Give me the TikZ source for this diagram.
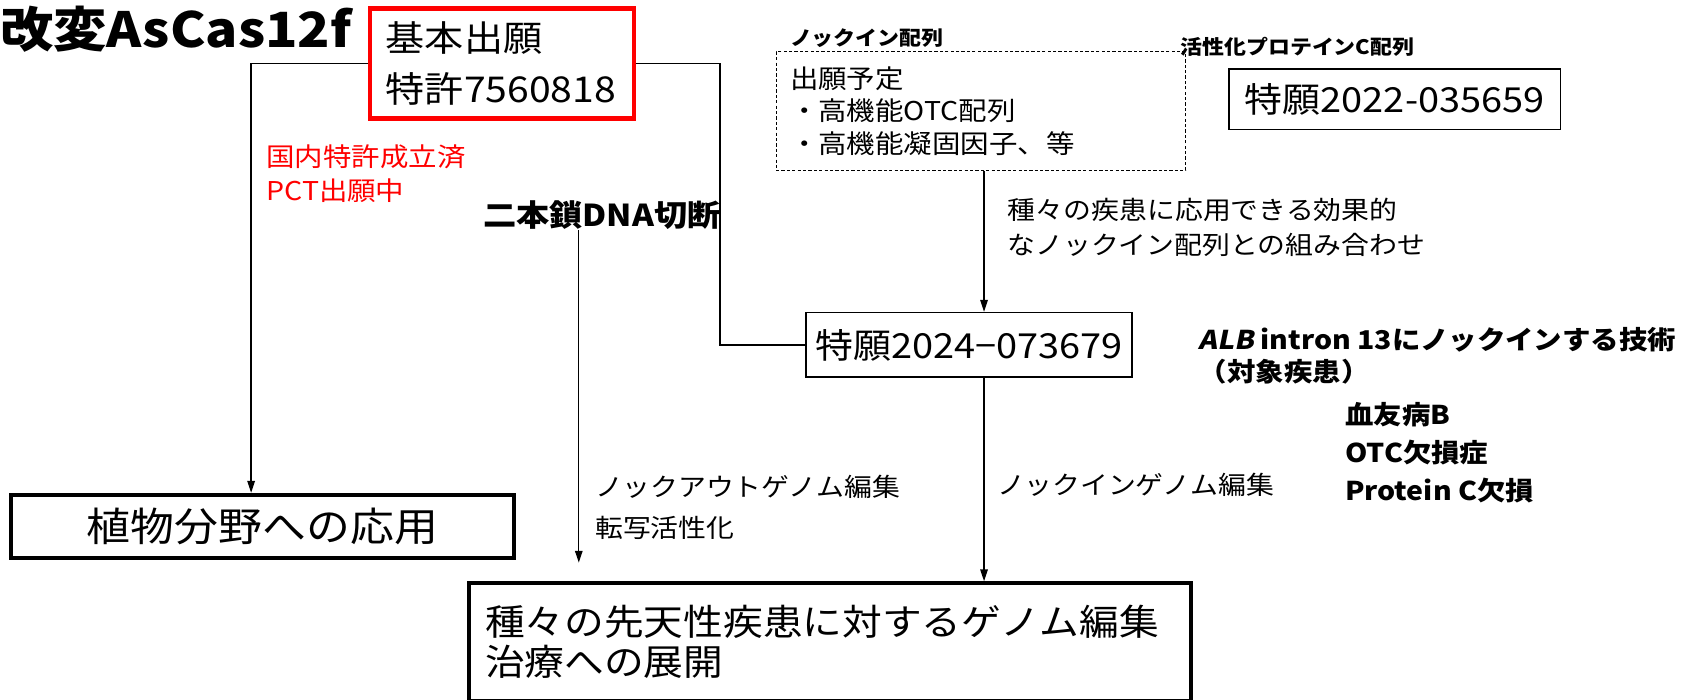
\documentclass[tikz,border=0pt]{standalone}
\usepackage{fontspec}
\setmainfont{Noto Sans CJK JP}[FakeStretch=1.1]
\newfontfamily\slfont{Noto Sans CJK JP}[FakeStretch=1.1,FakeSlant=0.2]
\usetikzlibrary{arrows.meta,calc}
\begin{document}
\begin{tikzpicture}[x=1pt,y=-1pt,
  txt/.style={inner sep=0pt, anchor=west, align=left},
  arr/.style={-{Triangle[length=11pt,width=7pt]}, line width=1.2pt},
  ln/.style={line width=1.2pt},
  thinbox/.style={draw, line width=1.5pt},
  thickbox/.style={draw, line width=3.5pt}]
\useasboundingbox (0,0) rectangle (1568,649);

\node[txt, font=\bfseries\fontsize{45}{50}\selectfont] (title) at (0,27) {改変AsCas12f};

\node[draw=red, line width=4pt, minimum width=245pt, minimum height=102pt, inner xsep=15pt, text width=215pt, align=left, font=\fontsize{33}{48}\selectfont] (red) at (465.5,59) {基本出願\\特許7560818};

\node[txt, text=red, font=\fontsize{24}{32}\selectfont] (status) at (247,161) {国内特許成立済\\PCT出願中};

\node[txt, font=\bfseries\fontsize{28}{32}\selectfont] (dsb) at (448,200) {二本鎖DNA切断};

\node[txt, font=\bfseries\fontsize{18.5}{22}\selectfont] (kilabel) at (733,35) {ノックイン配列};
\node[draw, line width=0.8pt, dash pattern=on 3pt off 2pt, minimum width=380pt, minimum height=110pt, inner xsep=13pt, text width=354pt, align=left, font=\fontsize{24}{30}\selectfont] (kibox) at (910,103) {出願予定\\・高機能OTC配列\\・高機能凝固因子、等};

\node[txt, font=\bfseries\fontsize{18.5}{22}\selectfont] (aplabel) at (1095,43) {活性化プロテインC配列};
\node[thinbox, minimum width=308pt, minimum height=56pt, font=\fontsize{32}{38}\selectfont] (k22) at (1294,92) {特願2022-035659};

\node[txt, font=\fontsize{23.5}{33}\selectfont] (combo) at (935,211) {種々の疾患に応用できる効果的\\なノックイン配列との組み合わせ};

\node[thinbox, minimum width=302pt, minimum height=60pt, font=\fontsize{32}{38}\selectfont] (k24) at (899,320) {特願2024−073679};

\node[txt, font=\bfseries\fontsize{24}{30}\selectfont] (alb) at (1112,330) {{\slfont\bfseries ALB} intron 13にノックインする技術\\（対象疾患）};

\node[txt, font=\bfseries\fontsize{24}{35}\selectfont] (dis) at (1248,420) {血友病B\\OTC欠損症\\Protein C欠損};

\node[txt, font=\fontsize{23.5}{30}\selectfont] (kiedit) at (925,450) {ノックインゲノム編集};
\node[txt, font=\fontsize{23.5}{38}\selectfont] (koedit) at (552,471) {ノックアウトゲノム編集\\転写活性化};

\node[thickbox, minimum width=467pt, minimum height=59pt, font=\fontsize{37}{42}\selectfont] (plant) at (243.5,488.5) {植物分野への応用};

\node[thickbox, minimum width=670pt, minimum height=109pt, inner xsep=15pt, text width=640pt, align=left, font=\fontsize{33.5}{37}\selectfont] (bot) at (770,595.5) {種々の先天性疾患に対するゲノム編集\\治療への展開};

% connectors
\coordinate (lx) at (233,0);
\coordinate (rx) at (668,0);
\coordinate (kx) at (913,0);
\coordinate (koend) at (537,522);
\draw[arr] (red.west) -| (lx |- plant.north);
\draw[ln] (red.east) -| (rx |- k24.west) -- (k24.west);
\draw[arr] (kx |- kibox.south) -- (kx |- k24.north);
\draw[arr] (kx |- k24.south) -- (kx |- bot.north);
\draw[arr] (koend |- dsb.south) -- (koend);
\end{tikzpicture}
\end{document}
